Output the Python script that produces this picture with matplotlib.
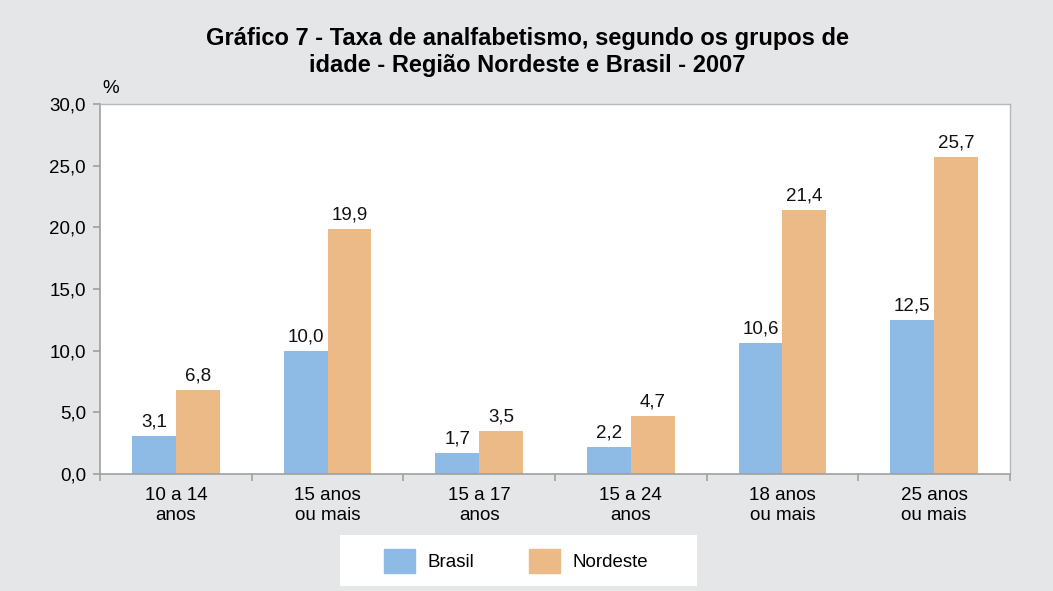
import numpy as np
import matplotlib.pyplot as plt
from matplotlib.patches import Patch, Rectangle

# dados do grafico
grupos = ['10 a 14\nanos', '15 anos\nou mais', '15 a 17\nanos', '15 a 24\nanos', '18 anos\nou mais', '25 anos\nou mais']
brasil = [3.1, 10.0, 1.7, 2.2, 10.6, 12.5]
nordeste = [6.8, 19.9, 3.5, 4.7, 21.4, 25.7]
yticks = [0, 5, 10, 15, 20, 25, 30]

cor_brasil = '#8EBBE5'
cor_nordeste = '#ECBA86'
cor_fundo = '#E5E6E8'
fs = 13.5

plt.rcParams['font.family'] = ['Liberation Sans', 'DejaVu Sans']

fig = plt.figure(figsize=(10.53, 5.91), dpi=100, facecolor=cor_fundo)
ax = fig.add_axes([100/1053, 1 - 474/591, 910/1053, 370/591])
ax.set_facecolor('white')

x = np.arange(len(grupos))
w = 0.29
b1 = ax.bar(x - w/2, brasil, w, color=cor_brasil, label='Brasil')
b2 = ax.bar(x + w/2, nordeste, w, color=cor_nordeste, label='Nordeste')

def fmt(v):
    return f'{v:.1f}'.replace('.', ',')

for barras, vals in [(b1, brasil), (b2, nordeste)]:
    for r, v in zip(barras, vals):
        ax.text(r.get_x() + r.get_width()/2, v + 0.45, fmt(v), ha='center', va='bottom', fontsize=fs, color='#111111')

ax.set_xlim(-0.5, len(grupos) - 0.5)
ax.set_ylim(0, 30)
ax.set_yticks(yticks)
ax.set_yticklabels([fmt(v) for v in yticks], fontsize=fs)

# ticks do eixo x nas fronteiras, rotulos no centro
ax.set_xticks(np.arange(-0.5, len(grupos)), minor=False)
ax.set_xticklabels([])
ax.set_xticks(x, minor=True)
ax.set_xticklabels(grupos, minor=True, fontsize=fs, linespacing=1.3)
ax.tick_params(axis='x', which='minor', length=0, pad=9)
ax.tick_params(axis='x', which='major', length=5, color='#A0A0A0', width=1.2)
ax.tick_params(axis='y', length=5, color='#A0A0A0', width=1.2, pad=5)

for lado in ['left', 'bottom']:
    ax.spines[lado].set_color('#A0A0A0')
    ax.spines[lado].set_linewidth(1.2)
for lado in ['top', 'right']:
    ax.spines[lado].set_color('#B8B8B8')
    ax.spines[lado].set_linewidth(1.0)

ax.text(0.003, 1.02, '%', transform=ax.transAxes, fontsize=fs, ha='left', va='bottom')

fig.text(527/1053, 1 - 52/591, 'Gráfico 7 - Taxa de analfabetismo, segundo os grupos de\nidade - Região Nordeste e Brasil - 2007',
         ha='center', va='center', fontsize=17, fontweight='bold', linespacing=1.25)

# legenda em caixa branca
fig.patches.append(Rectangle((340/1053, 1 - 586/591), 357/1053, 51/591, transform=fig.transFigure,
                             facecolor='white', edgecolor='none', zorder=0))
leg = fig.legend(handles=[Patch(color=cor_brasil, label='Brasil'), Patch(color=cor_nordeste, label='Nordeste')],
                 loc='center', bbox_to_anchor=(516/1053, 1 - 561/591), ncol=2, frameon=False, fontsize=fs,
                 handlelength=1.65, handleheight=1.65, handletextpad=0.7, columnspacing=2.9)

fig.savefig('out.png', dpi=100, facecolor=cor_fundo)
